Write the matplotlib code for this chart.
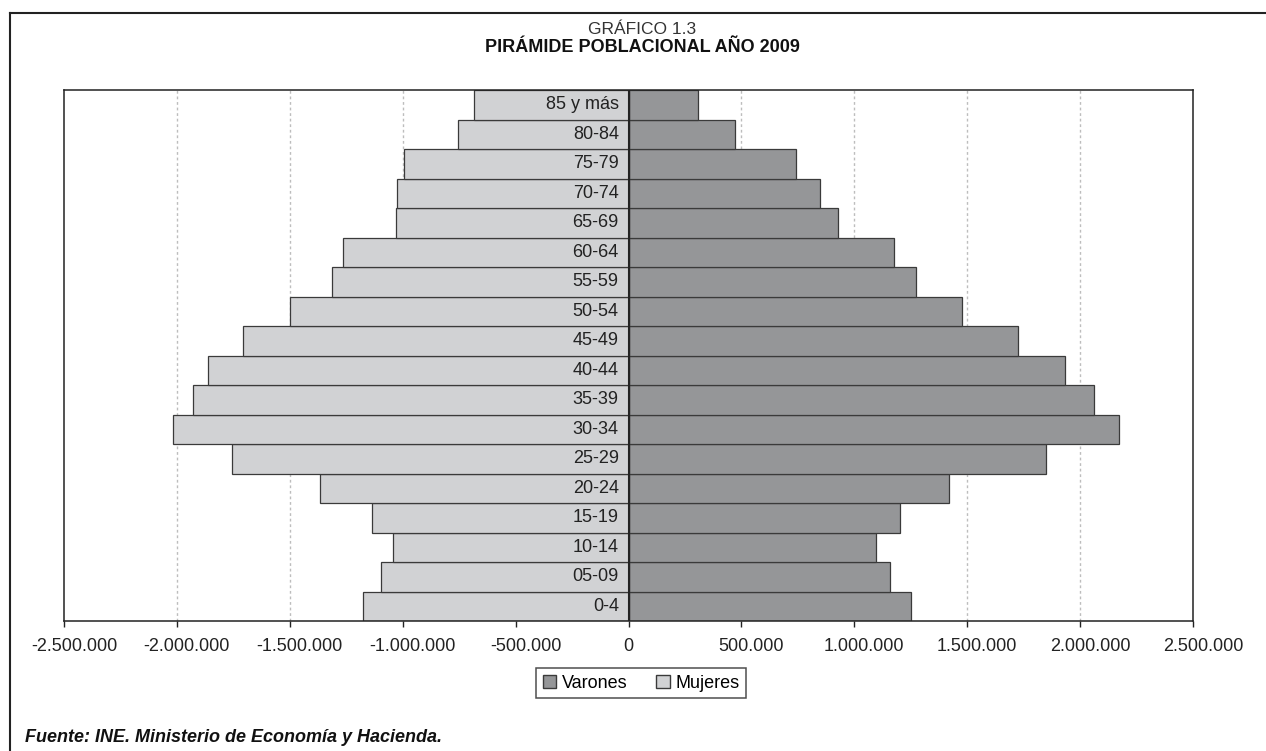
import matplotlib.pyplot as plt
import matplotlib.transforms as mtransforms
from matplotlib.lines import Line2D
from matplotlib.patches import Patch
from matplotlib.ticker import FuncFormatter

# age groups, bottom to top
grupos = ['0-4', '05-09', '10-14', '15-19', '20-24', '25-29', '30-34', '35-39',
          '40-44', '45-49', '50-54', '55-59', '60-64', '65-69', '70-74', '75-79',
          '80-84', '85 y más']
varones = [1249000, 1157000, 1097000, 1202000, 1420000, 1848000, 2173000, 2061000,
           1935000, 1727000, 1478000, 1272000, 1178000, 927000, 849000, 743000,
           472000, 307000]
mujeres = [-1177000, -1098000, -1041000, -1137000, -1367000, -1754000, -2019000, -1929000,
           -1864000, -1708000, -1498000, -1315000, -1263000, -1030000, -1026000, -996000,
           -754000, -683000]
xticks = [-2500000, -2000000, -1500000, -1000000, -500000, 0,
          500000, 1000000, 1500000, 2000000, 2500000]

plt.rcParams['font.family'] = ['Liberation Sans', 'DejaVu Sans']

c_var = '#959698'
c_muj = '#d1d2d4'
edge = '#3a3a3a'

fig = plt.figure(figsize=(12.66, 7.51), dpi=100)
ax = fig.add_axes([64 / 1266, 1 - 621 / 751, (1193 - 64) / 1266, (621 - 90) / 751])

y = range(len(grupos))
ax.barh(y, varones, height=1.0, color=c_var, edgecolor=edge, linewidth=0.9, zorder=2)
ax.barh(y, mujeres, height=1.0, color=c_muj, edgecolor=edge, linewidth=0.9, zorder=2)

ax.set_xlim(-2500000, 2500000)
ax.set_ylim(-0.5, len(grupos) - 0.5)
ax.set_xticks(xticks)
ax.xaxis.set_major_formatter(FuncFormatter(lambda v, p: f'{int(v):,}'.replace(',', '.')))
ax.tick_params(axis='x', direction='out', length=4, width=1, colors='#222222',
               labelsize=13, pad=8)
ax.tick_params(axis='y', left=False, labelleft=False)

# non-zero tick labels sit a bit right of their ticks in the original
shift = mtransforms.ScaledTranslation(10 / 100, 0, fig.dpi_scale_trans)
for xv, lbl in zip(xticks, ax.get_xticklabels()):
    if xv != 0:
        lbl.set_transform(lbl.get_transform() + shift)

for xv in xticks[1:-1]:
    if xv != 0:
        ax.axvline(xv, color='#bdbdbd', lw=1, ls=(0, (2, 2)), zorder=0)
ax.axvline(0, color='#222222', lw=1.5, zorder=3)

for sp in ax.spines.values():
    sp.set_color('#222222')
    sp.set_linewidth(1.1)

for yi, lab in zip(y, grupos):
    ax.annotate(lab, (0, yi), xytext=(-7, 0), textcoords='offset points',
                ha='right', va='center', fontsize=13, color='#222222', zorder=4)

fig.text(642 / 1266, 1 - 29 / 751, 'GRÁFICO 1.3', ha='center', va='center',
         fontsize=12.5, color='#333333')
fig.text(642 / 1266, 1 - 48 / 751, 'PIRÁMIDE POBLACIONAL AÑO 2009', ha='center',
         va='center', fontsize=13, fontweight='bold', color='#111111')
fig.text(25 / 1266, 1 - 737 / 751, 'Fuente: INE. Ministerio de Economía y Hacienda.',
         ha='left', va='center', fontsize=13, fontweight='bold', fontstyle='italic',
         color='#111111')

handles = [Patch(facecolor=c_var, edgecolor=edge, label='Varones'),
           Patch(facecolor=c_muj, edgecolor=edge, label='Mujeres')]
leg = fig.legend(handles=handles, loc='center', bbox_to_anchor=(641 / 1266, 1 - 683 / 751),
                 ncol=2, fontsize=13, frameon=True, fancybox=False, handlelength=0.75,
                 handleheight=0.75, handletextpad=0.3, columnspacing=1.6,
                 borderpad=0.35, borderaxespad=0)
leg.get_frame().set_edgecolor('#222222')
leg.get_frame().set_linewidth(1.1)

# outer frame (top and left edges)
fig.add_artist(Line2D([10 / 1266, 1.0], [1 - 13 / 751, 1 - 13 / 751],
                      transform=fig.transFigure, color='#222222', lw=1.5))
fig.add_artist(Line2D([10 / 1266, 10 / 1266], [0, 1 - 13 / 751],
                      transform=fig.transFigure, color='#222222', lw=1.5))

fig.savefig('out.png', dpi=100, facecolor='white')
